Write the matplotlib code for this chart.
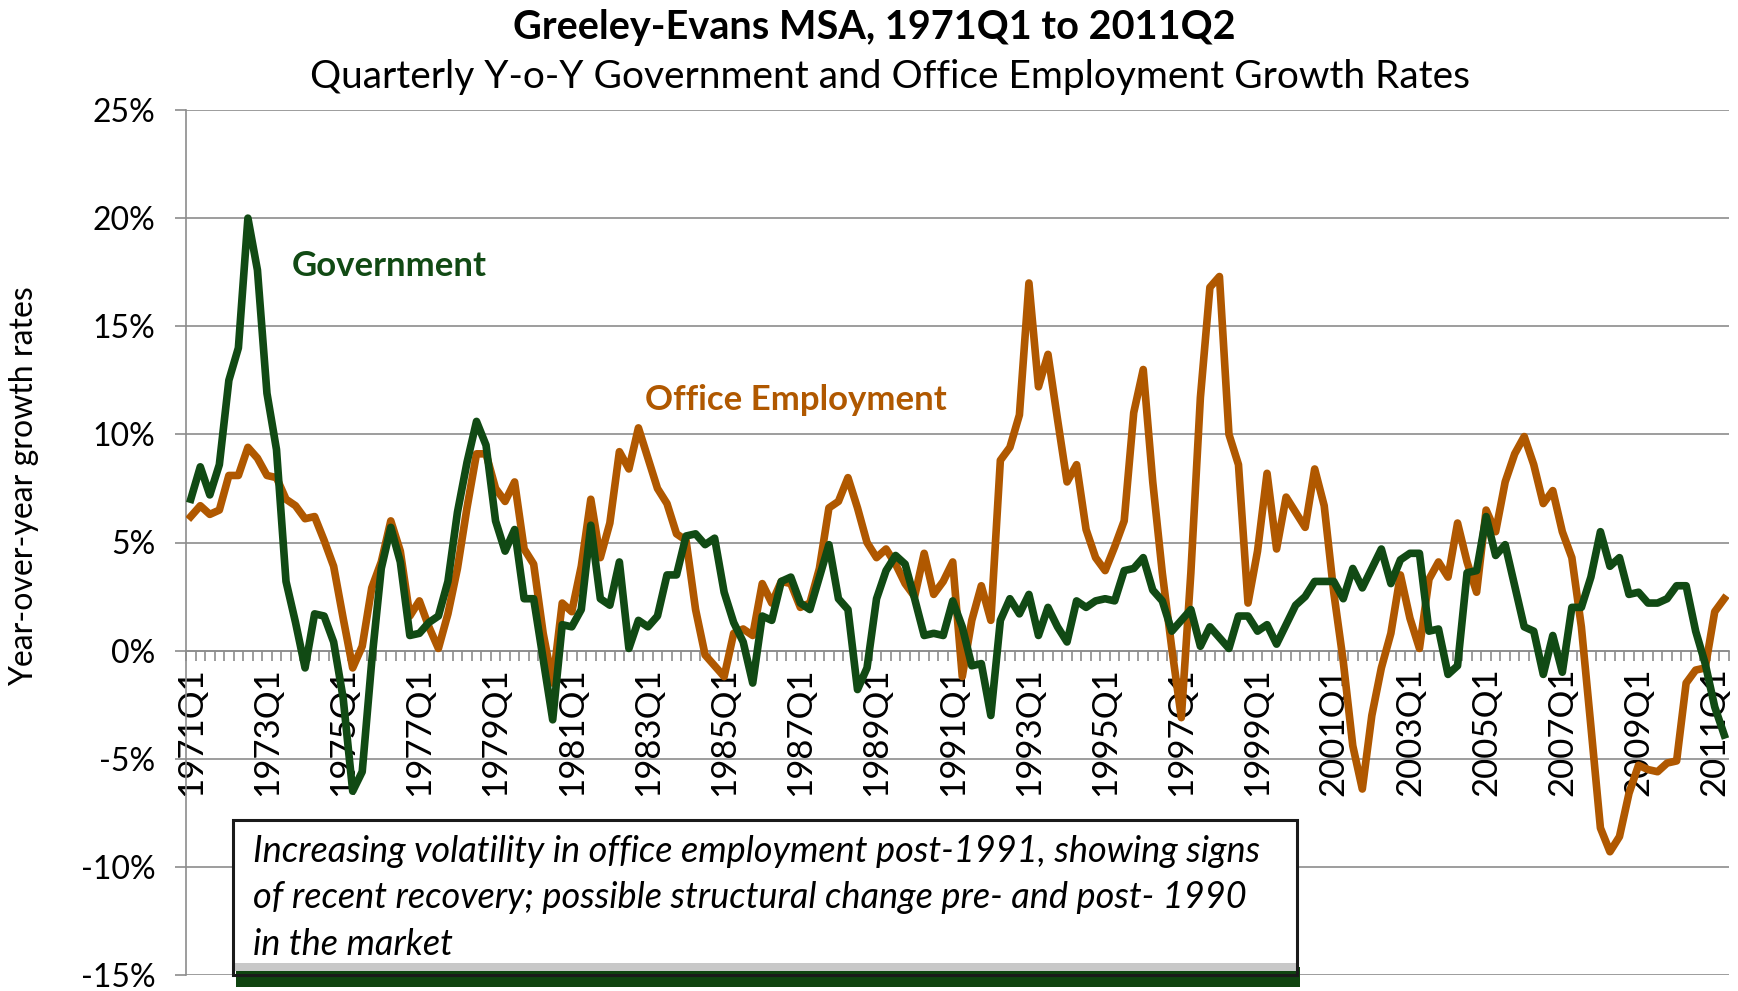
import matplotlib.pyplot as plt
import numpy as np
from matplotlib.patches import Rectangle

# quarterly labels 1971Q1 .. 2011Q2
quarters = [f"{y}Q{q}" for y in range(1971, 2012) for q in range(1, 5)][:162]

government = [
    7.0, 8.5, 7.2, 8.6, 12.5, 14.0, 20.0, 17.6, 11.9, 9.3,
    3.2, 1.3, -0.8, 1.7, 1.6, 0.4, -2.2, -6.5, -5.6, -0.5,
    3.8, 5.7, 4.1, 0.7, 0.8, 1.3, 1.6, 3.2, 6.4, 8.7,
    10.6, 9.5, 6.0, 4.6, 5.6, 2.4, 2.4, -0.4, -3.2, 1.2,
    1.1, 1.9, 5.8, 2.4, 2.1, 4.1, 0.1, 1.4, 1.1, 1.6,
    3.5, 3.5, 5.3, 5.4, 4.9, 5.2, 2.7, 1.3, 0.4, -1.5,
    1.6, 1.4, 3.2, 3.4, 2.2, 1.9, 3.4, 4.9, 2.4, 1.9,
    -1.8, -0.8, 2.4, 3.7, 4.4, 4.0, 2.4, 0.7, 0.8, 0.7,
    2.3, 1.1, -0.7, -0.6, -3.0, 1.4, 2.4, 1.7, 2.6, 0.7,
    2.0, 1.1, 0.4, 2.3, 2.0, 2.3, 2.4, 2.3, 3.7, 3.8,
    4.3, 2.8, 2.3, 0.9, 1.4, 1.9, 0.2, 1.1, 0.6, 0.1,
    1.6, 1.6, 0.9, 1.2, 0.3, 1.2, 2.1, 2.5, 3.2, 3.2,
    3.2, 2.4, 3.8, 2.9, 3.8, 4.7, 3.1, 4.2, 4.5, 4.5,
    0.9, 1.0, -1.1, -0.7, 3.6, 3.7, 6.2, 4.4, 4.9, 3.0,
    1.1, 0.9, -1.1, 0.7, -1.0, 2.0, 2.0, 3.4, 5.5, 3.9,
    4.3, 2.6, 2.7, 2.2, 2.2, 2.4, 3.0, 3.0, 0.9, -0.6,
    -2.6, -3.9,
]

office = [
    6.2, 6.7, 6.3, 6.5, 8.1, 8.1, 9.4, 8.9, 8.1, 8.0,
    7.0, 6.7, 6.1, 6.2, 5.1, 3.9, 1.5, -0.8, 0.2, 2.9,
    4.1, 6.0, 4.6, 1.6, 2.3, 1.1, 0.1, 1.7, 3.8, 6.6,
    9.1, 9.1, 7.5, 6.9, 7.8, 4.7, 4.0, 0.8, -1.5, 2.2,
    1.8, 3.9, 7.0, 4.3, 5.9, 9.2, 8.4, 10.3, 8.9, 7.5,
    6.8, 5.4, 5.1, 1.9, -0.2, -0.7, -1.2, 0.8, 1.0, 0.7,
    3.1, 2.2, 3.2, 3.1, 2.0, 2.2, 3.8, 6.6, 6.9, 8.0,
    6.6, 5.0, 4.3, 4.7, 4.0, 3.1, 2.5, 4.5, 2.6, 3.2,
    4.1, -1.2, 1.4, 3.0, 1.4, 8.8, 9.4, 10.9, 17.0, 12.2,
    13.7, 10.7, 7.8, 8.6, 5.6, 4.3, 3.7, 4.8, 6.0, 11.0,
    13.0, 7.8, 3.6, 0.1, -3.1, 3.6, 11.7, 16.8, 17.3, 10.0,
    8.6, 2.2, 4.6, 8.2, 4.7, 7.1, 6.4, 5.7, 8.4, 6.7,
    2.7, -0.5, -4.4, -6.4, -3.0, -0.8, 0.8, 3.5, 1.5, 0.1,
    3.3, 4.1, 3.4, 5.9, 4.1, 2.7, 6.5, 5.5, 7.8, 9.1,
    9.9, 8.6, 6.8, 7.4, 5.5, 4.3, 1.1, -3.5, -8.2, -9.3,
    -8.6, -6.6, -5.3, -5.5, -5.6, -5.2, -5.1, -1.5, -0.9, -0.8,
    1.8, 2.4,
]

green = "#114A14"
orange = "#B05800"
grid = "#8C8C8C"

plt.rcParams["font.family"] = ["Lato", "DejaVu Sans"]

fig = plt.figure(figsize=(17.38, 9.91), dpi=100)
ax = fig.add_axes([186 / 1738, 1 - 975 / 991, (1729 - 186) / 1738, (975 - 110) / 991])

x = np.arange(len(quarters))
ax.plot(x, office, color=orange, linewidth=5.5, solid_joinstyle="round", zorder=3)
ax.plot(x, government, color=green, linewidth=5.5, solid_joinstyle="round", zorder=4)

ax.set_xlim(-0.5, len(quarters) - 0.5)
ax.set_ylim(-15, 25)
ax.set_yticks(np.arange(-15, 26, 5))
ax.set_yticklabels([f"{v}%" for v in range(-15, 26, 5)], fontsize=23)
ax.grid(axis="y", color=grid, linewidth=1.2, zorder=0)

ax.spines[["top", "right"]].set_visible(False)
ax.spines["left"].set_color(grid)
ax.spines["left"].set_linewidth(1.2)
ax.spines["bottom"].set_position(("data", 0))
ax.spines["bottom"].set_color(grid)
ax.spines["bottom"].set_linewidth(1.2)
ax.tick_params(axis="y", length=8, color=grid, width=1.2, pad=14)

ax.set_xticks(x[::8])
ax.set_xticklabels(quarters[::8], rotation=90, fontsize=25)
ax.set_xticks(np.arange(-0.5, len(quarters), 1), minor=True)
ax.tick_params(axis="x", which="major", length=0, pad=12)
ax.tick_params(axis="x", which="minor", length=7, color=grid, width=1.2)

fig.text(24 / 1738, 1 - 486 / 991, "Year-over-year growth rates", rotation=90,
         ha="center", va="center", fontsize=23)
fig.text(0.503, 1 - 27 / 991, "Greeley-Evans MSA, 1971Q1 to 2011Q2",
         ha="center", va="center", fontsize=28.5, fontweight="bold")
fig.text(0.512, 1 - 77 / 991, "Quarterly Y-o-Y Government and Office Employment Growth Rates",
         ha="center", va="center", fontsize=28)

ax.text(10.6, 17.8, "Government", color=green, fontsize=25, fontweight="bold",
        ha="left", va="center")
ax.text(47.7, 11.6, "Office Employment", color=orange, fontsize=25, fontweight="bold",
        ha="left", va="center")

# annotation box with green shadow
bx0, bx1 = 233 / 1738, 1297 / 1738
by0, by1 = 1 - 975 / 991, 1 - 820 / 991
fig.patches.append(Rectangle((bx0 + 0.002, by0 - 0.012), bx1 - bx0, 0.02,
                             transform=fig.transFigure, facecolor="#0F4410",
                             edgecolor="none", zorder=9))
fig.patches.append(Rectangle((bx0, by0 + 0.004), bx1 - bx0, 0.012,
                             transform=fig.transFigure, facecolor="#C8C8C8",
                             edgecolor="none", zorder=10))
fig.patches.append(Rectangle((bx0, by0 + 0.012), bx1 - bx0, by1 - by0 - 0.012,
                             transform=fig.transFigure, facecolor="white",
                             edgecolor="none", zorder=10))
fig.patches.append(Rectangle((bx0, by0), bx1 - bx0, by1 - by0,
                             transform=fig.transFigure, facecolor="none",
                             edgecolor="#1A1A1A", linewidth=2.2, zorder=11))
fig.text(253 / 1738, 1 - 898 / 991,
         "Increasing volatility in office employment post-1991, showing signs\n"
         "of recent recovery; possible structural change pre- and post- 1990\n"
         "in the market",
         ha="left", va="center", fontsize=26, style="italic", linespacing=1.5, zorder=12)

fig.savefig("out.png", dpi=100, facecolor="white")
